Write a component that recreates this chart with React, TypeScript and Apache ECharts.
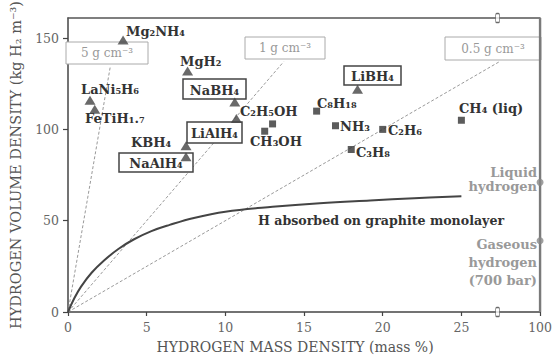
import React, { useEffect, useRef } from 'react';
import * as echarts from 'echarts';

// x axis: 0..25 mass %, then a break, the last tick (plotted at 30) stands for 100 mass %
const xTickLabels = ['0', '5', '10', '15', '20', '25', '100'];
const yTickValues = [0, 50, 100, 150];

// metal / complex hydrides (triangles)
const hydrideNames = ['Mg₂NH₄', 'MgH₂', 'LaNi₅H₆', 'FeTiH₁.₇', 'NaBH₄', 'LiAlH₄', 'KBH₄', 'NaAlH₄', 'LiBH₄'];
const hydridePoints: [number, number][] = [
  [3.5, 149], [7.6, 132], [1.4, 116], [1.7, 111], [10.6, 115], [10.7, 106], [7.5, 91], [7.5, 85], [18.4, 122],
];

// hydrocarbons, alcohols, ammonia (squares)
const fuelNames = ['C₂H₅OH', 'CH₃OH', 'C₈H₁₈', 'NH₃', 'C₂H₆', 'C₃H₈', 'CH₄ (liq)'];
const fuelPoints: [number, number][] = [
  [13.0, 103], [12.5, 99], [15.8, 110], [17.0, 102], [20.0, 100], [18.0, 89], [25.0, 105],
];

// pure hydrogen at 100 mass % (drawn at the "100" tick)
const hydrogenNames = ['Liquid hydrogen', 'Gaseous hydrogen (700 bar)'];
const hydrogenPoints: [number, number][] = [[30, 71], [30, 39]];

// H absorbed on graphite monolayer
const graphiteCurve: [number, number][] = [
  [0, 0], [0.4, 7.5], [0.83, 13.9], [1.5, 21.5], [2.29, 28.2], [3.2, 34.5], [4.17, 39.7], [5.3, 44.3],
  [6.46, 47.7], [8, 51.5], [10, 54.9], [13, 57.6], [16, 59.6], [19.2, 61.1], [22, 62.3], [25, 63.4],
];

// constant material-density lines
const densityLabels = ['5 g cm⁻³', '1 g cm⁻³', '0.5 g cm⁻³'];
const densityLines: [number, number][][] = [
  [[0, 0], [2.69, 134.5]],
  [[0, 0], [13.7, 137]],
  [[0, 0], [27.4, 137]],
];

// axis break position and the 100 % line on the right
const breakX = 27.3;
const xMax = 30;
const yMax = 161;

const SERIF = '"DejaVu Serif", "Liberation Serif", serif';

export default function App() {
  const ref = useRef<HTMLDivElement>(null);
  useEffect(() => {
    if (!ref.current) return;
    const chart = echarts.init(ref.current, null, { renderer: 'svg' });

    const label = (text: string, x: number, y: number, opt: any = {}) => ({
      type: 'text',
      x,
      y,
      z: 6,
      style: {
        text,
        fill: opt.fill || '#333',
        fontFamily: SERIF,
        fontSize: opt.fontSize || 13,
        fontWeight: opt.fontWeight || 'bold',
        align: opt.align || 'left',
        verticalAlign: 'middle',
      },
    });
    const box = (x: number, y: number, w: number, h: number, stroke: string, lw: number) => ({
      type: 'rect',
      z: 3,
      shape: { x, y, width: w, height: h },
      style: { fill: '#fff', stroke, lineWidth: lw },
    });

    const boxed = (text: string, x: number, y: number, w: number, h: number) => [
      box(x, y, w, h, '#444', 1.5),
      label(text, x + w / 2, y + h / 2 + 1, { align: 'center' }),
    ];
    const densityBox = (text: string, x: number, y: number, w: number, h: number) => [
      box(x, y, w, h, '#aaa', 1),
      label(text, x + w / 2, y + h / 2, { align: 'center', fill: '#999', fontWeight: 'normal', fontSize: 12 }),
    ];

    const graphic: any[] = [
      label(hydrideNames[0], 126, 31),
      label(hydrideNames[1], 180, 61),
      label(hydrideNames[2], 81, 89),
      label(hydrideNames[3], 85, 118),
      ...boxed(hydrideNames[4], 183, 79, 63, 20),
      ...boxed(hydrideNames[5], 187, 122, 55, 21),
      label(hydrideNames[6], 131, 142),
      ...boxed(hydrideNames[7], 119, 153, 74, 19),
      ...boxed(hydrideNames[8], 344, 66, 57, 19),
      label(fuelNames[0], 240, 111),
      label(fuelNames[1], 250, 141),
      label(fuelNames[2], 317, 103),
      label(fuelNames[3], 340, 126),
      label(fuelNames[4], 388, 130),
      label(fuelNames[5], 356, 152),
      label(fuelNames[6], 459, 108),
      ...densityBox(densityLabels[0], 66, 42, 82, 22),
      ...densityBox(densityLabels[1], 245, 37, 80, 22),
      ...densityBox(densityLabels[2], 445, 37, 96, 23),
      label('Liquid', 537, 172, { align: 'right', fill: '#999' }),
      label('hydrogen', 537, 186, { align: 'right', fill: '#999' }),
      label('Gaseous', 537, 244, { align: 'right', fill: '#999' }),
      label('hydrogen', 537, 262, { align: 'right', fill: '#999' }),
      label('(700 bar)', 537, 280, { align: 'right', fill: '#999' }),
      label('H absorbed on graphite monolayer', 258, 220, { fontSize: 12.6 }),
    ];

    chart.setOption({
      animation: false,
      backgroundColor: '#fff',
      grid: { left: 63, top: 15, right: 12, bottom: 43 },
      xAxis: [
        {
          type: 'value',
          min: 0,
          max: xMax,
          interval: 5,
          name: 'HYDROGEN MASS DENSITY (mass %)',
          nameLocation: 'middle',
          nameGap: 28,
          nameTextStyle: { fontFamily: SERIF, fontSize: 14, color: '#555', padding: [0, 18, 0, 0] },
          axisLine: { onZero: false, lineStyle: { color: '#444', width: 1.5 } },
          axisTick: { inside: false, length: 4, lineStyle: { color: '#444', width: 1.2 } },
          axisLabel: {
            margin: 9,
            fontFamily: SERIF,
            fontSize: 12.5,
            color: '#666',
            formatter: (v: number) => xTickLabels[Math.round(v / 5)] ?? '',
          },
          splitLine: { show: false },
        },
        {
          type: 'value',
          position: 'top',
          min: 0,
          max: xMax,
          axisLine: { show: true, onZero: false, lineStyle: { color: '#555', width: 1.5 } },
          axisTick: { show: false },
          axisLabel: { show: false },
          splitLine: { show: false },
        },
      ],
      yAxis: [
        {
          type: 'value',
          min: 0,
          max: yMax,
          name: 'HYDROGEN VOLUME DENSITY (kg H₂ m⁻³)',
          nameLocation: 'middle',
          nameGap: 45,
          nameTextStyle: { fontFamily: SERIF, fontSize: 14.5, color: '#555' },
          axisLine: { show: true, onZero: false, lineStyle: { color: '#444', width: 1.5 } },
          axisTick: { show: true, length: 5, customValues: yTickValues, lineStyle: { color: '#444', width: 1.2 } },
          axisLabel: { margin: 9, fontFamily: SERIF, fontSize: 12.5, color: '#666', customValues: yTickValues },
          splitLine: { show: false },
        },
      ],
      series: [
        ...densityLines.map((d, i) => ({
          type: 'line',
          name: densityLabels[i],
          data: d,
          symbol: 'none',
          z: 2,
          lineStyle: { color: '#999', width: 1, type: [3, 2] },
        })),
        {
          type: 'line',
          name: '100 % border',
          data: [[xMax, 0], [xMax, yMax]],
          symbol: 'none',
          clip: false,
          z: 3,
          lineStyle: { color: '#7a7a7a', width: 2.4 },
        },
        {
          type: 'line',
          name: 'H absorbed on graphite monolayer',
          data: graphiteCurve,
          smooth: 0.4,
          symbol: 'none',
          z: 2,
          lineStyle: { color: '#444', width: 2 },
        },
        {
          type: 'scatter',
          name: 'hydrides',
          data: hydridePoints,
          symbol: 'triangle',
          symbolSize: [11, 9],
          z: 4,
          itemStyle: { color: '#444' },
        },
        {
          type: 'scatter',
          name: 'fuels',
          data: fuelPoints,
          symbol: 'rect',
          symbolSize: 7,
          z: 4,
          itemStyle: { color: '#333' },
        },
        {
          type: 'scatter',
          name: 'hydrogen',
          data: hydrogenPoints,
          symbol: 'circle',
          symbolSize: 7,
          z: 4,
          clip: false,
          itemStyle: { color: '#888' },
        },
        {
          type: 'scatter',
          name: 'axis break',
          data: [[breakX, 0], [breakX, yMax]],
          symbol: 'roundRect',
          symbolSize: [4, 9],
          z: 5,
          clip: false,
          itemStyle: { color: '#fff', borderColor: '#444', borderWidth: 1 },
        },
      ],
      graphic,
    });
    return () => chart.dispose();
  }, []);
  return (
    <div
      ref={ref}
      style={{ position: 'absolute', left: 0, top: 0, width: 555, height: 359, background: '#fff' }}
    />
  );
}
